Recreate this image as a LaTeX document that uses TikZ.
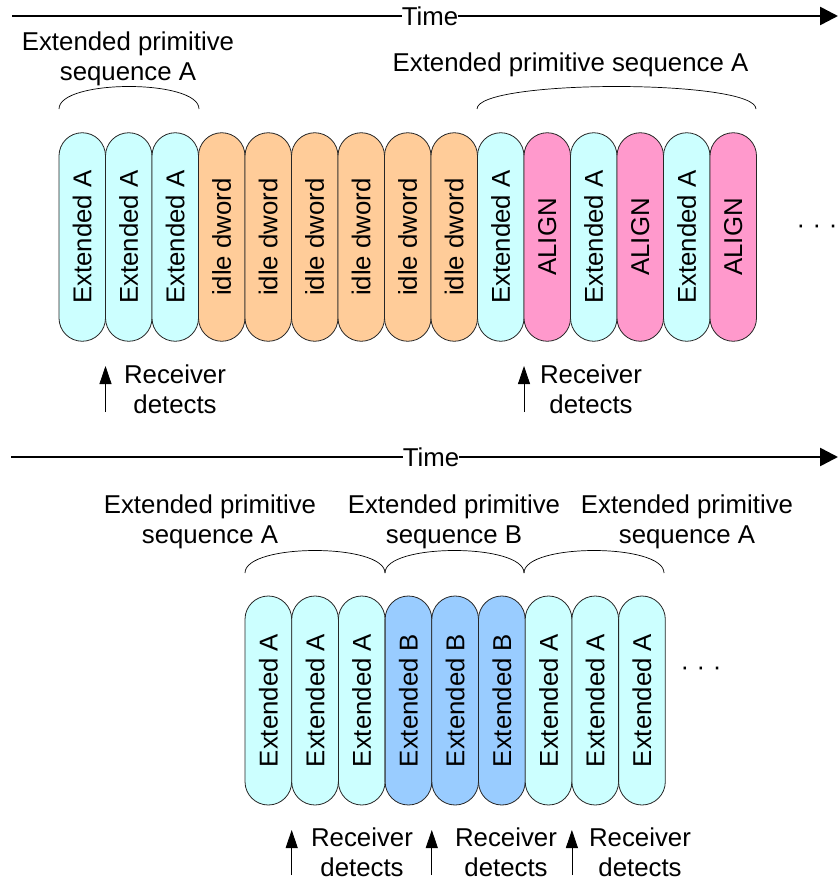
\documentclass[tikz,border=0pt]{standalone}
\usepackage{fontspec}
\setmainfont{Liberation Sans}
\usetikzlibrary{arrows.meta}
\definecolor{cA}{HTML}{CCFFFF}
\definecolor{cIdle}{HTML}{FFCC99}
\definecolor{cAlign}{HTML}{FF99CC}
\definecolor{cB}{HTML}{99CCFF}
\begin{document}
\begin{tikzpicture}[x=1pt,y=-1pt,
  every node/.style={font=\fontsize{25.8}{30}\selectfont, inner sep=0pt},
  pilltop/.style={draw=black!85, line width=0.8pt, rotate=90, minimum width=208.5pt, minimum height=46.5pt, rounded corners=23.2pt},
  pillbot/.style={draw=black!85, line width=0.8pt, rotate=90, minimum width=209pt, minimum height=46.7pt, rounded corners=23.3pt},
  timeline/.style={line width=2.6pt},
  timetip/.style={-{Triangle[length=18pt,width=18pt]}},
  detarrow/.style={line width=0.8pt, -{Triangle[length=18pt,width=12pt]}},
  brace/.style={line width=0.7pt},
  lbl/.style={align=center}
]
\useasboundingbox (0,0) rectangle (838,883);

% ---------- top time line ----------
\node (time1) at (430,16) {Time};
\coordinate (ts1) at (12,16);
\coordinate (te1) at (838,16);
\draw[timeline] (ts1) -- (time1.west);
\draw[timeline,timetip] (time1.east) -- (te1);

% ---------- top headings ----------
\node[lbl] (h1) at (128,58.5) {Extended primitive\\sequence A};
\node[anchor=base] (h2) at (570.5,71) {Extended primitive sequence A};

% braces
\draw[brace] (59,109) .. controls (59,79) and (199,79) .. (199,109);
\draw[brace] (477,109) .. controls (477,79) and (756,79) .. (756,109);

% ---------- top pills ----------
\foreach \i/\t/\c in {1/Extended A/cA, 2/Extended A/cA, 3/Extended A/cA,
  4/idle dword/cIdle, 5/idle dword/cIdle, 6/idle dword/cIdle, 7/idle dword/cIdle, 8/idle dword/cIdle, 9/idle dword/cIdle,
  10/Extended A/cA, 11/ALIGN/cAlign, 12/Extended A/cA, 13/ALIGN/cAlign, 14/Extended A/cA, 15/ALIGN/cAlign}{
  \node[pilltop, fill=\c] (t\i) at ({59+46.5*(\i-0.5)},237) {\t};
}
\node (dots1) at (817,229) {·\hspace{7.5pt}·\hspace{7.5pt}·};

% receiver detects (top)
\coordinate (ra1) at (105.5,412);
\coordinate (rb1) at (105.5,366);
\draw[detarrow] (ra1) -- (rb1);
\node[lbl] (rd1) at (175,389) {Receiver\\detects};
\coordinate (ra2) at (524,412);
\coordinate (rb2) at (524,366);
\draw[detarrow] (ra2) -- (rb2);
\node[lbl] (rd2) at (591,389) {Receiver\\detects};

% ---------- bottom time line ----------
\node (time2) at (431,457) {Time};
\coordinate (ts2) at (11,457);
\coordinate (te2) at (838,457);
\draw[timeline] (ts2) -- (time2.west);
\draw[timeline,timetip] (time2.east) -- (te2);

% bottom headings
\node[lbl] (g1) at (210,521.5) {Extended primitive\\sequence A};
\node[lbl] (g2) at (454,521.5) {Extended primitive\\sequence B};
\node[lbl] (g3) at (687,521.5) {Extended primitive\\sequence A};

% bottom braces
\draw[brace] (245,573) .. controls (245,543) and (385,543) .. (385,573);
\draw[brace] (385,573) .. controls (385,543) and (524,543) .. (524,573);
\draw[brace] (524,573) .. controls (524,543) and (664,543) .. (664,573);

% ---------- bottom pills ----------
\foreach \i/\t/\c in {1/Extended A/cA, 2/Extended A/cA, 3/Extended A/cA,
  4/Extended B/cB, 5/Extended B/cB, 6/Extended B/cB,
  7/Extended A/cA, 8/Extended A/cA, 9/Extended A/cA}{
  \node[pillbot, fill=\c] (b\i) at ({245+46.7*(\i-0.5)},700.5) {\t};
}
\node (dots2) at (701,671) {·\hspace{7.5pt}·\hspace{7.5pt}·};

% receiver detects (bottom)
\coordinate (sa1) at (291.7,875);
\coordinate (sb1) at (291.7,830);
\draw[detarrow] (sa1) -- (sb1);
\node[lbl] (sd1) at (362,852.5) {Receiver\\detects};
\coordinate (sa2) at (431.8,875);
\coordinate (sb2) at (431.8,830);
\draw[detarrow] (sa2) -- (sb2);
\node[lbl] (sd2) at (506,852.5) {Receiver\\detects};
\coordinate (sa3) at (571.9,875);
\coordinate (sb3) at (571.9,830);
\draw[detarrow] (sa3) -- (sb3);
\node[lbl] (sd3) at (640,852.5) {Receiver\\detects};
\end{tikzpicture}
\end{document}
